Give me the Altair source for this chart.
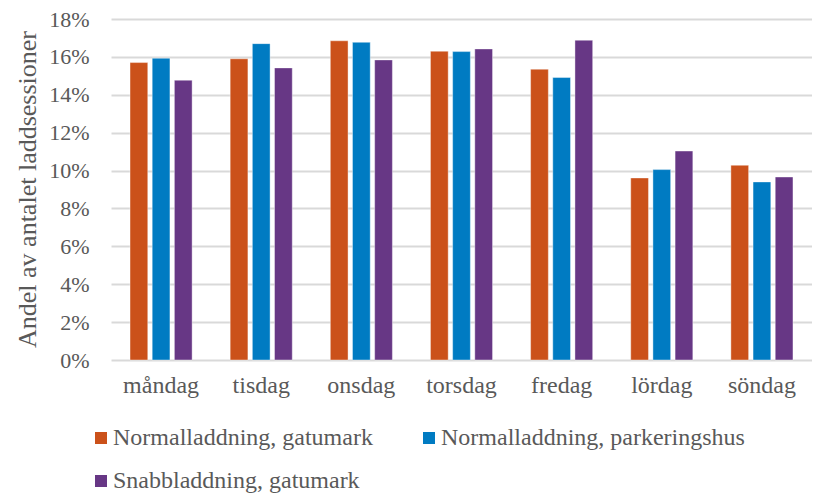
import altair as alt
import pandas as pd

days = ["måndag", "tisdag", "onsdag", "torsdag", "fredag", "lördag", "söndag"]
series = ["Normalladdning, gatumark", "Normalladdning, parkeringshus", "Snabbladdning, gatumark"]
gatumark = [15.70, 15.90, 16.85, 16.30, 15.35, 9.61, 10.28]
parkeringshus = [15.93, 16.70, 16.77, 16.28, 14.91, 10.05, 9.40]
snabb = [14.77, 15.42, 15.84, 16.42, 16.88, 11.03, 9.66]
colors = ["#CB511A", "#007BC2", "#673785"]

rows = []
for s, vals in zip(series, [gatumark, parkeringshus, snabb]):
    for d, v in zip(days, vals):
        rows.append({"dag": d, "serie": s, "andel": v / 100})
df = pd.DataFrame(rows)

font = "Liberation Serif"
txt = "#595959"

chart = alt.Chart(df).mark_bar(stroke="white", strokeOpacity=0.5, strokeWidth=0.8).encode(
    x=alt.X("dag:N", sort=days, title=None,
            scale=alt.Scale(paddingInner=0.38, paddingOuter=0.19),
            axis=alt.Axis(labelAngle=0, labelFont=font, labelFontSize=24, labelColor=txt,
                          labelPadding=13, ticks=False, domain=False, grid=False)),
    xOffset=alt.XOffset("serie:N", sort=series, scale=alt.Scale(paddingInner=0.2, paddingOuter=0)),
    y=alt.Y("andel:Q", title="Andel av antalet laddsessioner",
            scale=alt.Scale(domain=[0, 0.18], nice=False),
            axis=alt.Axis(format=".0%", values=[i / 100 for i in range(0, 19, 2)],
                          labelFont=font, labelFontSize=22, labelColor=txt, labelPadding=22,
                          ticks=False, domain=False, gridColor="#D9D9D9", gridWidth=1.8,
                          titleFont=font, titleFontSize=26, titleColor=txt, titleFontWeight="normal",
                          titleX=-84, titleY=170, titleAngle=-90, titleAlign="center",
                          titleBaseline="middle")),
    color=alt.Color("serie:N", sort=series, scale=alt.Scale(domain=series, range=colors),
                    legend=alt.Legend(title=None, orient="none", legendX=-22, legendY=407,
                                      columns=2, direction="horizontal",
                                      symbolType="square", symbolSize=144, symbolStrokeWidth=0,
                                      labelFont=font, labelFontSize=24, labelColor=txt,
                                      labelOffset=0, columnPadding=44, rowPadding=19,
                                      padding=0, labelLimit=400)),
).properties(
    width=701, height=341,
    autosize=alt.AutoSizeParams(type="none"),
    padding={"left": 103, "top": 11, "right": 0, "bottom": 136},
).configure_view(stroke=None)

chart.save("out.html", embed_options={"renderer": "svg", "actions": False})
